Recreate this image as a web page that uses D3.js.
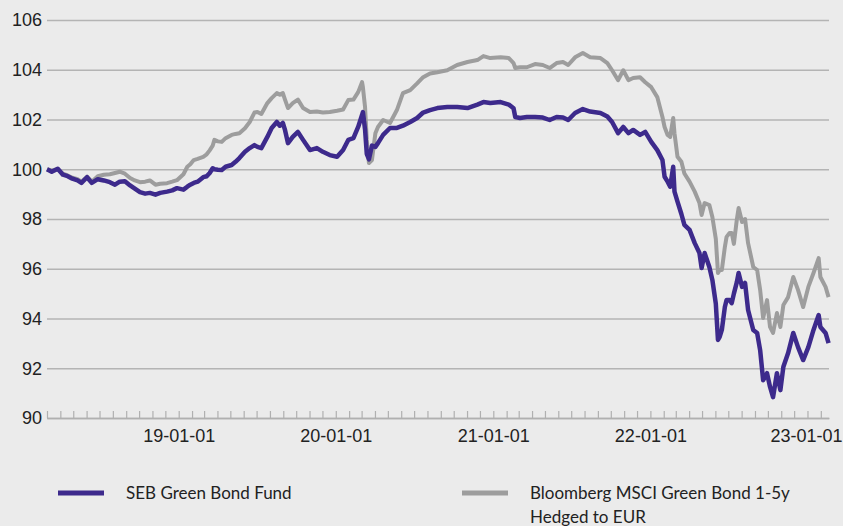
<!DOCTYPE html>
<html>
<head>
<meta charset="utf-8">
<script src="https://cdn.jsdelivr.net/npm/d3@7"></script>
<style>
    body { margin: 0; background: #ebebeb; }
    svg { display: block; font-family: Lato, "Open Sans", sans-serif; }
</style>
</head>
<body>
<div id="chart"></div>
<script>
// data (index, start = 100)
const dates = [
    "2018-03-01", "2018-03-12", "2018-03-26", "2018-04-07", "2018-04-18", "2018-04-29", "2018-05-11", "2018-05-20",
    "2018-06-02", "2018-06-13", "2018-06-27", "2018-07-11", "2018-07-25", "2018-08-06", "2018-08-17", "2018-08-29",
    "2018-09-10", "2018-09-21", "2018-10-03", "2018-10-15", "2018-10-26", "2018-11-08", "2018-11-19", "2018-12-05",
    "2018-12-17", "2018-12-28", "2019-01-12", "2019-01-21", "2019-01-28", "2019-02-05", "2019-02-14", "2019-02-27",
    "2019-03-07", "2019-03-14", "2019-03-21", "2019-03-25", "2019-04-02", "2019-04-11", "2019-04-20", "2019-05-04",
    "2019-05-13", "2019-05-22", "2019-06-04", "2019-06-15", "2019-06-26", "2019-07-03", "2019-07-12", "2019-07-26",
    "2019-08-05", "2019-08-17", "2019-08-24", "2019-08-31", "2019-09-05", "2019-09-12", "2019-09-23", "2019-10-05",
    "2019-10-17", "2019-11-02", "2019-11-18", "2019-12-02", "2019-12-18", "2020-01-04", "2020-01-18", "2020-01-30",
    "2020-02-11", "2020-02-22", "2020-03-02", "2020-03-04", "2020-03-09", "2020-03-13", "2020-03-18", "2020-03-25",
    "2020-04-02", "2020-04-08", "2020-04-20", "2020-05-06", "2020-05-22", "2020-06-05", "2020-06-22", "2020-07-08",
    "2020-07-22", "2020-08-07", "2020-08-24", "2020-09-16", "2020-10-09", "2020-11-02", "2020-11-25", "2020-12-09",
    "2020-12-25", "2021-01-18", "2021-02-06", "2021-02-17", "2021-02-21", "2021-03-04", "2021-03-20", "2021-04-08",
    "2021-04-26", "2021-05-12", "2021-05-28", "2021-06-12", "2021-06-24", "2021-07-10", "2021-07-28", "2021-08-14",
    "2021-09-07", "2021-09-23", "2021-10-04", "2021-10-18", "2021-10-30", "2021-11-11", "2021-11-22", "2021-12-08",
    "2021-12-20", "2022-01-03", "2022-01-17", "2022-01-29", "2022-02-03", "2022-02-10", "2022-02-16", "2022-02-23",
    "2022-02-26", "2022-03-05", "2022-03-14", "2022-03-21", "2022-04-02", "2022-04-14", "2022-04-25", "2022-04-30",
    "2022-05-07", "2022-05-18", "2022-05-25", "2022-06-02", "2022-06-07", "2022-06-11", "2022-06-16", "2022-06-23",
    "2022-06-27", "2022-07-04", "2022-07-09", "2022-07-14", "2022-07-21", "2022-07-25", "2022-08-02", "2022-08-09",
    "2022-08-16", "2022-08-28", "2022-09-06", "2022-09-13", "2022-09-20", "2022-09-29", "2022-10-06", "2022-10-13",
    "2022-10-22", "2022-10-30", "2022-11-06", "2022-11-17", "2022-11-29", "2022-12-10", "2022-12-22", "2023-01-03",
    "2023-01-15", "2023-01-27", "2023-01-31", "2023-02-12", "2023-02-19"
];

const fund = [
    100.0, 99.9, 100.02, 99.78, 99.72, 99.62, 99.55, 99.45,
    99.68, 99.45, 99.6, 99.55, 99.48, 99.38, 99.5, 99.52,
    99.35, 99.22, 99.08, 99.02, 99.05, 98.98, 99.05, 99.1,
    99.15, 99.24, 99.18, 99.3, 99.38, 99.45, 99.5, 99.68,
    99.72, 99.85, 100.04, 100.0, 99.98, 99.97, 100.1, 100.17,
    100.3, 100.45, 100.7, 100.85, 100.97, 100.9, 100.85, 101.3,
    101.66, 101.9, 101.75, 101.86, 101.58, 101.05, 101.3, 101.5,
    101.18, 100.77, 100.85, 100.7, 100.57, 100.5, 100.77, 101.18,
    101.25, 101.7, 102.18, 102.3, 101.6, 100.62, 100.4, 100.95,
    100.9, 101.05, 101.38, 101.66, 101.66, 101.75, 101.9, 102.06,
    102.28, 102.38, 102.46, 102.5, 102.5, 102.46, 102.6, 102.7,
    102.66, 102.7, 102.6, 102.45, 102.1, 102.06, 102.1, 102.1,
    102.08, 101.98, 102.1, 102.08, 101.98, 102.26, 102.42, 102.32,
    102.26, 102.12, 101.9, 101.45, 101.7, 101.45, 101.58, 101.38,
    101.5, 101.1, 100.77, 100.37, 99.7, 99.5, 99.3, 100.1,
    99.1, 98.7, 98.2, 97.76, 97.56, 97.03, 96.63, 96.03,
    96.63, 96.07, 95.55, 94.6, 93.14, 93.26, 93.54, 94.46,
    94.74, 94.74, 94.62, 95.0, 95.47, 95.83, 95.27, 95.43,
    94.34, 93.54, 93.42, 92.73, 91.52, 91.8, 91.25, 90.84,
    91.8, 91.12, 92.06, 92.61, 93.42, 92.85, 92.33, 92.85,
    93.54, 94.14, 93.66, 93.42, 93.01
];

const benchmark = [
    100.0, 99.95, 100.0, 99.82, 99.75, 99.66, 99.6, 99.5,
    99.7, 99.5, 99.72, 99.78, 99.8, 99.85, 99.9, 99.82,
    99.65, 99.55, 99.48, 99.5, 99.55, 99.38, 99.42, 99.44,
    99.5, 99.56, 99.8, 100.1, 100.2, 100.37, 100.42, 100.5,
    100.6, 100.76, 100.95, 101.18, 101.12, 101.1, 101.25, 101.38,
    101.42, 101.45, 101.65, 101.9, 102.28, 102.3, 102.22, 102.66,
    102.86, 103.06, 103.0, 103.06, 102.8, 102.46, 102.66, 102.8,
    102.46, 102.3, 102.32, 102.28, 102.3, 102.35, 102.4, 102.78,
    102.8, 103.1, 103.5, 103.3, 102.5, 101.18, 100.25, 100.37,
    101.45, 101.7, 101.98, 101.86, 102.38, 103.06, 103.18, 103.45,
    103.7, 103.85, 103.9, 103.98, 104.19, 104.31, 104.39, 104.55,
    104.47, 104.5, 104.47, 104.27, 104.07, 104.1, 104.1, 104.23,
    104.19, 104.07, 104.27, 104.31, 104.19, 104.5, 104.67, 104.5,
    104.47, 104.27, 103.98, 103.58, 103.98, 103.58, 103.67, 103.7,
    103.5, 103.3, 102.9, 102.1, 101.7, 101.38, 101.3, 102.06,
    101.45, 100.5, 100.3, 99.83, 99.5, 99.1, 98.64, 98.16,
    98.64, 98.56, 98.08, 97.2, 95.83, 95.95, 95.95, 96.87,
    97.28, 97.44, 97.44, 97.0, 98.0, 98.44, 97.88, 98.0,
    97.03, 96.07, 95.95, 95.15, 94.02, 94.74, 93.66, 93.42,
    94.22, 93.66, 94.54, 94.86, 95.67, 95.15, 94.46, 95.27,
    95.83, 96.43, 95.67, 95.27, 94.86
];

const yTicks = [90, 92, 94, 96, 98, 100, 102, 104, 106];
const xLabels = ["2019-01-01", "2020-01-01", "2021-01-01", "2022-01-01", "2023-01-01"];
const legendFund = ["SEB Green Bond Fund"];
const legendBench = ["Bloomberg MSCI Green Bond 1-5y", "Hedged to EUR"];

const W = 843, H = 526;
const plot = { left: 47, right: 829, top: 20, bottom: 418 };

const parse = d3.timeParse("%Y-%m-%d");
const rows = dates.map((d, i) => ({ date: parse(d), fund: fund[i], bench: benchmark[i] }));

const svg = d3.select("#chart")
    .append("svg")
    .attr("width", W)
    .attr("height", H);

const x = d3.scaleTime()
    .domain([parse("2018-03-01"), parse("2023-02-20")])
    .range([plot.left, plot.right]);

const y = d3.scaleLinear()
    .domain([90, 106])
    .range([plot.bottom, plot.top]);

// horizontal grid + y labels
svg.append("g")
    .attr("transform", `translate(${plot.left},0)`)
    .call(d3.axisLeft(y).tickValues(yTicks).tickSize(-(plot.right - plot.left)).tickPadding(5))
    .call(g => g.select(".domain").remove())
    .call(g => g.selectAll("line").attr("stroke", "#b4b4b4").attr("stroke-width", 1.5))
    .call(g => g.selectAll("text").attr("fill", "#222").style("font-size", "18px"));

// monthly ticks on the x axis
svg.append("g")
    .attr("transform", `translate(0,${plot.bottom})`)
    .call(d3.axisBottom(x)
        .tickValues(d3.timeMonth.range(parse("2018-03-01"), parse("2023-02-02")))
        .tickSize(-7)
        .tickSizeOuter(0)
        .tickFormat(""))
    .call(g => g.select(".domain").attr("stroke", "#b0b0b0").attr("stroke-width", 1.5))
    .call(g => g.selectAll(".tick line").attr("stroke", "#b0b0b0").attr("stroke-width", 1.2));

const xLab = svg.append("g")
    .attr("transform", `translate(0,${plot.bottom})`)
    .call(d3.axisBottom(x)
        .tickValues(xLabels.map(parse))
        .tickSize(0)
        .tickPadding(11)
        .tickFormat(d3.timeFormat("%y-%m-%d")))
    .call(g => g.select(".domain").remove())
    .call(g => g.selectAll("text").attr("fill", "#222").style("font-size", "18px"));

// keep last label inside the picture
xLab.selectAll(".tick text").each(function (d) {
    const b = this.getBBox();
    const over = x(d) + b.x + b.width - (W - 1);
    if (over > 0) d3.select(this).attr("x", -over);
});

const line = key => d3.line()
    .x(d => x(d.date))
    .y(d => y(d[key]));

svg.append("path")
    .datum(rows)
    .attr("fill", "none")
    .attr("stroke", "#9d9d9d")
    .attr("stroke-width", 4)
    .attr("stroke-linejoin", "round")
    .attr("d", line("bench"));

svg.append("path")
    .datum(rows)
    .attr("fill", "none")
    .attr("stroke", "#3d2a8c")
    .attr("stroke-width", 4.5)
    .attr("stroke-linejoin", "round")
    .attr("d", line("fund"));

// legend
const legend = svg.append("g").style("font-size", "17px").attr("fill", "#222");

legend.append("line")
    .attr("x1", 58).attr("x2", 104).attr("y1", 493).attr("y2", 493)
    .attr("stroke", "#3d2a8c").attr("stroke-width", 5);
legend.append("text")
    .attr("x", 126).attr("y", 499)
    .text(legendFund[0]);

legend.append("line")
    .attr("x1", 462).attr("x2", 508).attr("y1", 493).attr("y2", 493)
    .attr("stroke", "#9d9d9d").attr("stroke-width", 5);
legend.append("text")
    .selectAll("tspan")
    .data(legendBench)
    .enter()
    .append("tspan")
    .attr("x", 530)
    .attr("y", (d, i) => 499 + i * 24)
    .text(d => d);
</script>
</body>
</html>
